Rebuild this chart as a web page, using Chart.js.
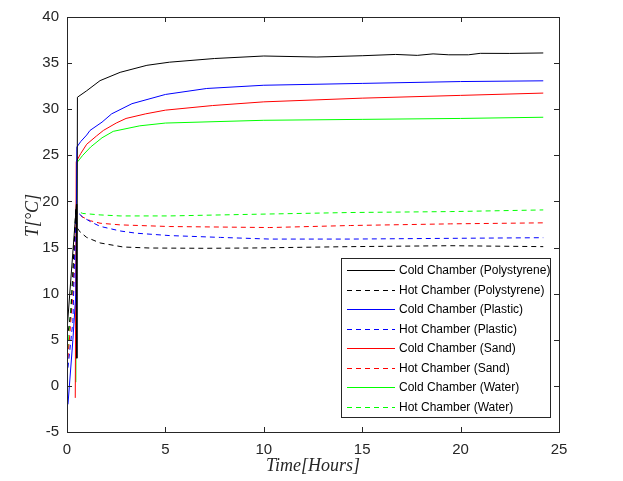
<!DOCTYPE html>
<html>
<head>
<meta charset="utf-8">
<script src="https://cdn.jsdelivr.net/npm/chart.js@4.4.0/dist/chart.umd.min.js"></script>
<style>
  html, body { margin: 0; padding: 0; background: #fff; }
</style>
</head>
<body>
<canvas id="tempChart" width="623" height="481"></canvas>
<script>
// Time (hours) and temperature (°C) for each chamber
const coldPolyT = [0, 0.48, 0.5, 0.53, 1.0, 1.68, 2.7, 4.06, 5.2, 7.5, 10, 12.7, 15, 16.7, 17.8, 18.6, 19.4, 20.4, 21, 22.5, 24.2];
const coldPolyV = [6, 19.7, 3, 31.3, 32.0, 33.1, 34.0, 34.76, 35.1, 35.5, 35.77, 35.66, 35.8, 35.94, 35.84, 36.0, 35.9, 35.9, 36.06, 36.05, 36.1];

const hotPolyT = [0, 0.2, 0.45, 0.5, 0.66, 1.0, 1.68, 2.85, 4.2, 7, 9.3, 14.4, 19.5, 24.2];
const hotPolyV = [5, 8, 19.3, 17.2, 16.7, 16.1, 15.5, 15.06, 14.95, 14.92, 14.95, 15.1, 15.2, 15.1];

const coldPlasticT = [0.05, 0.3, 0.45, 0.5, 0.7, 1.0, 1.17, 1.78, 2.27, 3.3, 5, 7.1, 10, 15, 20, 24.2];
const coldPlasticV = [-2, 5, 10, 25.9, 26.5, 27.2, 27.7, 28.6, 29.5, 30.6, 31.6, 32.25, 32.6, 32.8, 33.0, 33.08];

const hotPlasticT = [0, 0.3, 0.45, 0.8, 1.2, 1.68, 2.7, 3.5, 5.2, 7.8, 10.3, 14.4, 19.5, 24.2];
const hotPlasticV = [1, 7, 19, 18.3, 17.8, 17.3, 16.8, 16.56, 16.3, 16.1, 15.92, 15.92, 16.0, 16.07];

const coldSandT = [0.42, 0.47, 0.7, 1.0, 1.5, 1.85, 2.5, 3.0, 4, 5, 7.4, 10, 15, 20, 24.2];
const coldSandV = [-1.3, 24.3, 25.2, 26.2, 27.1, 27.7, 28.5, 29.0, 29.5, 29.9, 30.4, 30.8, 31.2, 31.5, 31.75];

const hotSandT = [0.05, 0.3, 0.45, 0.8, 1.2, 1.68, 2.7, 5.2, 10.3, 14.4, 19.5, 24.2];
const hotSandV = [3, 10, 18.9, 18.3, 17.9, 17.64, 17.46, 17.28, 17.17, 17.39, 17.57, 17.68];

const coldWaterT = [0.45, 0.5, 0.8, 1.2, 1.78, 2.35, 3.7, 5, 10, 15, 20, 24.2];
const coldWaterV = [0.4, 24.2, 25.0, 25.9, 26.9, 27.6, 28.2, 28.5, 28.8, 28.9, 29.0, 29.13];

const hotWaterT = [0.05, 0.3, 0.45, 0.8, 1.68, 2.7, 5.2, 9.3, 14.4, 19.5, 24.2];
const hotWaterV = [4, 12, 19.0, 18.7, 18.54, 18.43, 18.43, 18.6, 18.8, 18.9, 19.08];

const xTicks = [0, 5, 10, 15, 20, 25];
const yTicks = [-5, 0, 5, 10, 15, 20, 25, 30, 35, 40];

const axisColor = '#262626';

// pair time and value arrays into points
function toPoints(t, v) {
    return t.map((x, i) => ({ x: x, y: v[i] }));
}

function series(label, t, v, color, dashed) {
    return {
        label: label,
        data: toPoints(t, v),
        borderColor: color,
        borderWidth: 1,
        borderDash: dashed ? [5, 4] : [],
        pointRadius: 0,
        fill: false,
        tension: 0
    };
}

// Box around the plot with inward ticks on all sides (MATLAB style)
const boxPlugin = {
    id: 'box',
    afterDraw(chart) {
        const { ctx, chartArea: a, scales } = chart;
        ctx.save();
        ctx.strokeStyle = axisColor;
        ctx.lineWidth = 1;
        ctx.strokeRect(a.left + 0.5, a.top + 0.5, a.right - a.left, a.bottom - a.top);
        ctx.beginPath();
        xTicks.forEach(v => {
            const px = Math.round(scales.x.getPixelForValue(v)) + 0.5;
            ctx.moveTo(px, a.bottom); ctx.lineTo(px, a.bottom - 5);
            ctx.moveTo(px, a.top); ctx.lineTo(px, a.top + 5);
        });
        yTicks.forEach(v => {
            const py = Math.round(scales.y.getPixelForValue(v)) + 0.5;
            ctx.moveTo(a.left, py); ctx.lineTo(a.left + 5, py);
            ctx.moveTo(a.right, py); ctx.lineTo(a.right - 5, py);
        });
        ctx.stroke();
        ctx.restore();
    }
};

// Legend box inside the plot, lower right
const legendPlugin = {
    id: 'boxLegend',
    afterDraw(chart) {
        const ctx = chart.ctx;
        const left = 341, top = 258, w = 209, h = 159;
        ctx.save();
        ctx.fillStyle = '#fff';
        ctx.fillRect(left, top, w, h);
        ctx.strokeStyle = axisColor;
        ctx.lineWidth = 1;
        ctx.strokeRect(left + 0.5, top + 0.5, w, h);
        ctx.font = '12px "Liberation Sans", Arial, sans-serif';
        ctx.textBaseline = 'middle';
        chart.data.datasets.forEach((ds, i) => {
            const y = Math.round(top + 12 + i * 19.5) + 0.5;
            ctx.strokeStyle = ds.borderColor;
            ctx.setLineDash(ds.borderDash);
            ctx.beginPath();
            ctx.moveTo(347, y); ctx.lineTo(395, y);
            ctx.stroke();
            ctx.setLineDash([]);
            ctx.fillStyle = '#000';
            ctx.fillText(ds.label, 399, y);
        });
        ctx.restore();
    }
};

const ctx = document.getElementById('tempChart').getContext('2d');
new Chart(ctx, {
    type: 'line',
    data: {
        datasets: [
            series('Cold Chamber (Polystyrene)', coldPolyT, coldPolyV, '#000000', false),
            series('Hot Chamber (Polystyrene)', hotPolyT, hotPolyV, '#000000', true),
            series('Cold Chamber (Plastic)', coldPlasticT, coldPlasticV, '#0000ff', false),
            series('Hot Chamber (Plastic)', hotPlasticT, hotPlasticV, '#0000ff', true),
            series('Cold Chamber (Sand)', coldSandT, coldSandV, '#ff0000', false),
            series('Hot Chamber (Sand)', hotSandT, hotSandV, '#ff0000', true),
            series('Cold Chamber (Water)', coldWaterT, coldWaterV, '#00ff00', false),
            series('Hot Chamber (Water)', hotWaterT, hotWaterV, '#00ff00', true)
        ]
    },
    options: {
        responsive: false,
        animation: false,
        layout: { padding: { left: 0, right: 64, top: 14, bottom: 0 } },
        plugins: {
            legend: { display: false },
            tooltip: { enabled: false }
        },
        scales: {
            x: {
                type: 'linear',
                min: 0,
                max: 25,
                afterFit: s => { s.height = 49; },
                afterBuildTicks: s => { s.ticks = xTicks.map(v => ({ value: v })); },
                grid: { display: false, drawTicks: false },
                border: { display: false },
                ticks: {
                    color: axisColor,
                    padding: 9,
                    maxRotation: 0,
                    font: { family: '"Liberation Sans", Arial, sans-serif', size: 15 }
                },
                title: {
                    display: true,
                    text: 'Time[Hours]',
                    color: axisColor,
                    padding: { top: 0, bottom: 4 },
                    font: { family: '"Liberation Serif", "DejaVu Serif", serif', style: 'italic', size: 18 }
                }
            },
            y: {
                min: -5,
                max: 40,
                afterFit: s => { s.width = 67; },
                afterBuildTicks: s => { s.ticks = yTicks.map(v => ({ value: v })); },
                grid: { display: false, drawTicks: false },
                border: { display: false },
                ticks: {
                    color: axisColor,
                    padding: 8,
                    font: { family: '"Liberation Sans", Arial, sans-serif', size: 15 }
                },
                title: {
                    display: true,
                    text: '\u2002\u2002T[°C]',
                    color: axisColor,
                    padding: { top: 22, bottom: 0 },
                    font: { family: '"Liberation Serif", "DejaVu Serif", serif', style: 'italic', size: 18 }
                }
            }
        }
    },
    plugins: [boxPlugin, legendPlugin]
});
</script>
</body>
</html>
